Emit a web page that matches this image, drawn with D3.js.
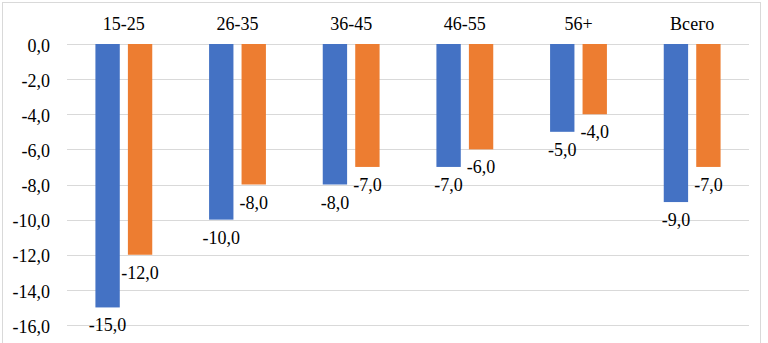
<!DOCTYPE html>
<html>
<head>
<meta charset="utf-8">
<script src="https://cdn.jsdelivr.net/npm/d3@7"></script>
</head>
<body style="margin:0; background:#fff">
<div id="chart"></div>
<script>
// data
var categories = ["15-25", "26-35", "36-45", "46-55", "56+", "Всего"];
var seriesNames = ["s1", "s2"];
var blueValues = [-15, -10, -8, -7, -5, -9];
var orangeValues = [-12, -8, -7, -6, -4, -7];
var yTicks = [0, -2, -4, -6, -8, -10, -12, -14, -16];

var colors = { s1: "#4472C4", s2: "#ED7D31" };
var serif = "Liberation Serif";

var svgwidth = 768;
var svgheight = 343;

var margin = { top: 44, right: 19, bottom: 18, left: 67 };
var width = svgwidth - margin.left - margin.right;
var height = svgheight - margin.top - margin.bottom;

var rows = categories.map(function(c, i) {
  return { cat: c, s1: blueValues[i], s2: orangeValues[i] };
});

var svg = d3.select("#chart")
  .append("svg")
  .attr("width", svgwidth)
  .attr("height", svgheight);

// outer frame
svg.append("rect")
  .attr("x", 2.5).attr("y", 2.5)
  .attr("width", 758).attr("height", 360)
  .attr("fill", "#fff")
  .attr("stroke", "#D9D9D9");

var chartGroup = svg.append("g")
  .attr("transform", `translate(${margin.left},${margin.top})`);

var x0 = d3.scaleBand()
  .domain(categories)
  .range([0, width])
  .paddingInner(0.5)
  .paddingOuter(0.25);

var x1 = d3.scaleBand()
  .domain(seriesNames)
  .range([0, x0.bandwidth()])
  .paddingInner(0.25);

var yscale = d3.scaleLinear()
  .domain([-16, 0])
  .range([height, 0]);

var fmt = function(v) { return d3.format(".1f")(v).replace(".", ",").replace("−", "-"); };

// gridlines
chartGroup.append("g")
  .selectAll("line")
  .data(yTicks)
  .enter()
  .append("line")
  .attr("x1", 0)
  .attr("x2", width)
  .attr("y1", d => Math.round(yscale(d)) + 0.5)
  .attr("y2", d => Math.round(yscale(d)) + 0.5)
  .attr("stroke", "#D9D9D9")
  .attr("stroke-width", 1);

// y axis labels
var yAxis = d3.axisLeft(yscale)
  .tickValues(yTicks)
  .tickSize(0)
  .tickPadding(17)
  .tickFormat(fmt);

var yg = chartGroup.append("g").call(yAxis);
yg.select(".domain").remove();
yg.selectAll("text")
  .attr("dy", "0.4em")
  .style("font-family", serif)
  .style("font-size", "18px")
  .style("fill", "#000");

// category labels on top
var xAxis = d3.axisTop(x0).tickSize(0).tickPadding(14);
var xg = chartGroup.append("g").call(xAxis);
xg.select(".domain").remove();
xg.selectAll("text")
  .style("font-family", serif)
  .style("font-size", "18px")
  .style("fill", "#000");

// bars
var groups = chartGroup.selectAll(".cat")
  .data(rows)
  .enter()
  .append("g")
  .attr("class", "cat")
  .attr("transform", d => `translate(${x0(d.cat)},0)`);

var bars = groups.selectAll("rect")
  .data(d => seriesNames.map(k => ({ key: k, value: d[k] })))
  .enter();

bars.append("rect")
  .attr("x", d => x1(d.key))
  .attr("y", yscale(0))
  .attr("width", x1.bandwidth())
  .attr("height", d => yscale(d.value) - yscale(0))
  .attr("fill", d => colors[d.key]);

bars.append("text")
  .attr("x", d => x1(d.key) + x1.bandwidth() / 2)
  .attr("y", d => yscale(d.value) + 24)
  .attr("text-anchor", "middle")
  .style("font-family", serif)
  .style("font-size", "18px")
  .style("fill", "#000")
  .text(d => fmt(d.value));
</script>
</body>
</html>
